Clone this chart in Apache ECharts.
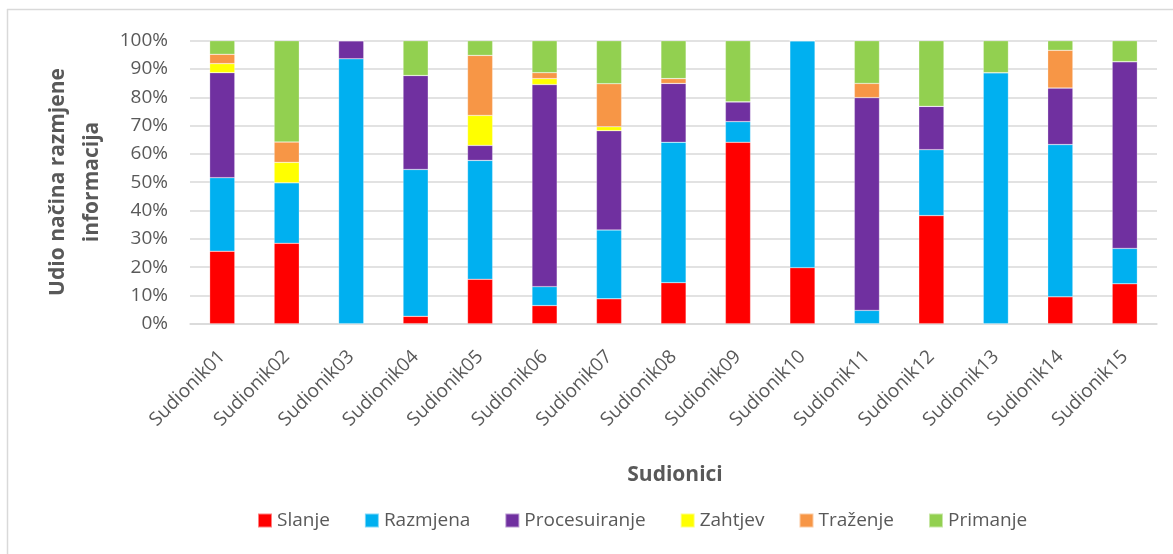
<!DOCTYPE html>
<html>
<head>
<meta charset="utf-8">
<script src="https://cdn.jsdelivr.net/npm/echarts@6/dist/echarts.min.js"></script>
<style>html,body{margin:0;padding:0;background:#fff}#c{width:1173px;height:554px}</style>
</head>
<body>
<div id="c"></div>
<script>
const categories = ['Sudionik01','Sudionik02','Sudionik03','Sudionik04','Sudionik05','Sudionik06','Sudionik07','Sudionik08','Sudionik09','Sudionik10','Sudionik11','Sudionik12','Sudionik13','Sudionik14','Sudionik15'];
const slanje       = [25.6, 28.4, 0,    2.6,  15.7, 6.4,  8.8,  14.5, 64.1, 19.8, 0,    38.2, 0,    9.5,  14.1];
const razmjena     = [26.0, 21.4, 93.6, 51.9, 42.0, 6.7,  24.3, 49.6, 7.3,  80.2, 4.7,  23.3, 88.7, 53.8, 12.5];
const procesuiranje= [37.1, 0,    6.4,  33.2, 5.3,  71.4, 35.1, 20.8, 7.0,  0,    75.2, 15.3, 0,    20.0, 66.0];
const zahtjev      = [3.2,  7.2,  0,    0,    10.6, 2.1,  1.4,  0,    0,    0,    0,    0,    0,    0,    0];
const trazenje     = [3.3,  7.2,  0,    0,    21.2, 2.1,  15.2, 1.7,  0,    0,    5.0,  0,    0,    13.3, 0];
const primanje     = [4.8,  35.8, 0,    12.3, 5.2,  11.3, 15.2, 13.4, 21.6, 0,    15.1, 23.2, 11.3, 3.4,  7.4];
const seriesNames  = ['Slanje','Razmjena','Procesuiranje','Zahtjev','Traženje','Primanje'];

const colors = ['#FF0000','#00B0F0','#7030A0','#FFFF00','#F79646','#92D050'];
const dataSets = [slanje, razmjena, procesuiranje, zahtjev, trazenje, primanje];
const FONT = '"Open Sans", "Noto Sans", sans-serif';

const chart = echarts.init(document.getElementById('c'), null, {renderer:'canvas'});
chart.setOption({
  animation: false,
  color: colors,
  textStyle: {fontFamily: FONT},
  graphic: [
    {type:'line', shape:{x1:7.5,y1:9,x2:7.5,y2:554}, style:{stroke:'#d9d9d9',lineWidth:1.5}, silent:true},
    {type:'line', shape:{x1:7,y1:9.5,x2:1173,y2:9.5}, style:{stroke:'#d9d9d9',lineWidth:1.5}, silent:true},
    {type:'text', x:75, y:182, rotation:Math.PI/2, silent:true,
     style:{text:'Udio načina razmjene\ninformacija', fill:'#595959', font:'bold 21px "Open Sans", "Noto Sans", sans-serif', textAlign:'center', textVerticalAlign:'middle', lineHeight:34}},
    {type:'text', x:675, y:475, silent:true,
     style:{text:'Sudionici', fill:'#595959', font:'bold 21px "Open Sans", "Noto Sans", sans-serif', textAlign:'center', textVerticalAlign:'middle'}}
  ],
  grid: {left:190, top:40.7, width:967, height:283, containLabel:false},
  legend: {
    data: seriesNames, top: 511, left:257, padding:0, itemWidth:14, itemHeight:14, itemGap:34,
    icon:'rect', textStyle:{color:'#595959', fontSize:19, fontFamily:FONT}
  },
  xAxis: {
    type:'category', data:categories,
    axisLine:{show:true, lineStyle:{color:'#d9d9d9', width:1.5}},
    axisTick:{show:false},
    axisLabel:{rotate:45, color:'#595959', fontSize:19, fontFamily:FONT, margin:30, interval:0}
  },
  yAxis: {
    type:'value', min:0, max:100, interval:10,
    axisLine:{show:false}, axisTick:{show:false},
    splitLine:{lineStyle:{color:'#d9d9d9', width:1.5}},
    axisLabel:{formatter: v => v + '%', color:'#595959', fontSize:19, fontFamily:FONT, margin:22}
  },
  series: seriesNames.map((n,i)=>({
    name:n, type:'bar', stack:'total', data:dataSets[i], barWidth:'39%',
    itemStyle:{color:colors[i], borderColor:'rgba(255,255,255,0.5)', borderWidth:0.5}
  }))
});
</script>
</body>
</html>
